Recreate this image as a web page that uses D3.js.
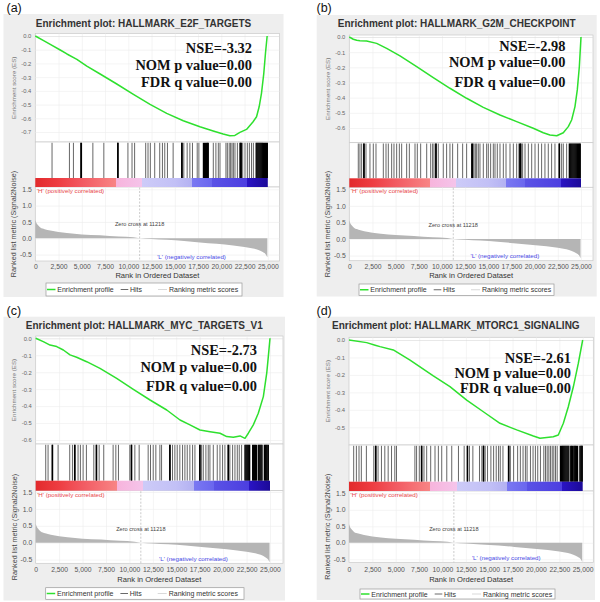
<!DOCTYPE html>
<html><head><meta charset="utf-8">
<script src="https://cdn.jsdelivr.net/npm/d3@7"></script>
<style>body{margin:0;background:#fff}svg{display:block}</style>
</head><body>
<svg id="c" width="600" height="602"></svg>
<script>
// ---------------- DATA ----------------
const panelLabels = ["(a)", "(b)", "(c)", "(d)"];
const geneSets = ["HALLMARK_E2F_TARGETS", "HALLMARK_G2M_CHECKPOINT", "HALLMARK_MYC_TARGETS_V1", "HALLMARK_MTORC1_SIGNALING"];
const nseValues = ["-3.32", "-2.98", "-2.73", "-2.61"];
const nomPValues = ["0.00", "0.00", "0.00", "0.00"];
const fdrQValues = ["0.00", "0.00", "0.00", "0.00"];

// running enrichment score: [rank, ES]
const esA = [[0,0],[895,-0.034],[1610,-0.061],[2680,-0.102],[3400,-0.131],[4470,-0.170],[5540,-0.219],[6970,-0.277],[8760,-0.350],[10550,-0.426],[12340,-0.499],[14130,-0.564],[15910,-0.618],[17700,-0.662],[19130,-0.693],[20200,-0.715],[20920,-0.727],[21460,-0.725],[22000,-0.703],[22710,-0.681],[23420,-0.625],[23790,-0.589],[24070,-0.516],[24320,-0.418],[24570,-0.272],[24750,-0.126],[24930,0]];
const esB = [[0,0],[430,-0.015],[800,-0.022],[1150,-0.024],[1870,-0.026],[2950,-0.042],[4030,-0.075],[5470,-0.125],[7270,-0.196],[9060,-0.268],[10860,-0.338],[12660,-0.404],[14460,-0.464],[16260,-0.514],[18060,-0.558],[19850,-0.602],[20930,-0.631],[21650,-0.646],[22380,-0.651],[23090,-0.631],[23630,-0.591],[23990,-0.547],[24350,-0.459],[24600,-0.349],[24820,-0.196],[25000,0]];
const esC = [[0,0],[810,-0.020],[1530,-0.040],[2240,-0.049],[2950,-0.069],[3660,-0.098],[4370,-0.112],[5440,-0.138],[6860,-0.177],[8640,-0.236],[10420,-0.301],[12200,-0.364],[13980,-0.423],[15400,-0.482],[16460,-0.511],[17530,-0.541],[18600,-0.551],[19670,-0.560],[20380,-0.580],[21090,-0.584],[21800,-0.576],[22330,-0.590],[22690,-0.560],[23220,-0.511],[23750,-0.442],[24290,-0.344],[24650,-0.206],[24820,-0.108],[25000,0]];
const esD = [[0,0],[1890,-0.015],[2800,-0.030],[3320,-0.038],[4740,-0.057],[6530,-0.115],[9020,-0.206],[10800,-0.267],[12590,-0.344],[14370,-0.411],[16150,-0.477],[17940,-0.515],[19720,-0.550],[20430,-0.563],[21150,-0.558],[21850,-0.554],[22390,-0.544],[22930,-0.477],[23460,-0.382],[24000,-0.268],[24530,-0.134],[25000,0]];

// hit positions (rank)
const hitsA = [1800,3670,4100,4900,4960,6190,7370,8860,8900,9960,10400,10680,11870,12120,12370,12840,13380,13670,13920,14210,14820,15740,15790,15970,16330,16620,16900,17410,17590,18080,18200,18300,18420,18500,18600,19140,19420,19680,19860,20500,20650,20850,21000,21150,21300,21470,21730,22010,22080,22150,22300,22550,22800,23020,23250,23450,23750,23850,23950,24050,24150,24250,24350,24450,24550,24650,24750,24850,24950];
const hitsB = [970,1150,1330,1560,1600,1800,2230,2590,2880,3670,3960,4210,4570,4820,5110,5400,5650,6190,6480,7090,7340,7700,8350,8780,8990,9140,9330,9370,9600,10140,10500,10860,11150,11690,12230,12660,13210,13310,13450,13600,13740,13920,14100,14460,14820,15000,15250,15540,15720,15970,16260,16620,16910,17340,17700,18060,18340,18470,18510,18700,18960,19320,19680,20040,20400,20750,21110,21470,21830,22190,22640,22680,22910,23090,23450,23740,23840,23940,24040,24140,24240,24340,24440,24540,24640,24740,24840,24920];
const hitsC = [1070,1320,1760,1800,2390,3630,3920,4150,4190,4520,4770,5060,5410,6200,6460,6500,6770,7260,8260,8550,8830,10040,10200,10240,10580,11040,12000,12250,12540,12820,13250,13430,14300,14340,14600,14850,15100,15380,15670,15920,16170,16450,16740,16990,17500,17540,17700,17880,18160,18410,18590,18950,19370,19660,19940,20190,20530,20570,20720,21010,21260,21510,21720,21970,22330,22430,22530,22630,22730,22830,23150,23250,23350,23450,23550,23750,23850,23950,24050,24150,24400,24500,24600,24700,24820];
const hitsD = [500,790,1070,1320,1860,2650,2840,2880,3110,3470,3830,4190,4550,4900,5080,7050,7230,7520,7750,7790,8020,8310,8740,9200,9560,9920,10460,10990,11710,12320,12650,12690,12890,13250,13960,14210,14370,14410,14570,14820,15180,15470,15750,16000,16180,16470,17060,17100,17260,17610,18040,18330,18620,18870,19050,19410,19690,19940,20190,20480,20840,21020,21200,21380,21560,21740,21910,22090,22270,22620,22720,22820,22920,23020,23120,23220,23320,23420,23520,23720,23820,23920,24050,24150,24250,24350,24450,24700,24800,24900,24950];

// ranked list metric (Signal2Noise): [rank, value]
const rankedMetric = [[0,0.56],[120,0.47],[300,0.40],[540,0.33],[1000,0.28],[1610,0.236],[2500,0.19],[3400,0.16],[5000,0.12],[6970,0.094],[9000,0.055],[10550,0.03],[11218,0],[12500,-0.02],[14130,-0.048],[16000,-0.085],[17700,-0.125],[19500,-0.17],[21280,-0.22],[22500,-0.265],[23420,-0.31],[24000,-0.36],[24500,-0.43],[24800,-0.50],[24950,-0.58]];
const zeroCross = 11218;

const xTicks = [0,2500,5000,7500,10000,12500,15000,17500,20000,22500,25000];
const xTickLabels = ["0","2,500","5,000","7,500","10,000","12,500","15,000","17,500","20,000","22,500","25,000"];
const esTicksA = [0,-0.1,-0.2,-0.3,-0.4,-0.5,-0.6,-0.7];
const esTicksB = [0,-0.1,-0.2,-0.3,-0.4,-0.5,-0.6];
const esTicksC = [0,-0.1,-0.2,-0.3,-0.4,-0.5,-0.6];
const esTicksD = [0,-0.1,-0.2,-0.3,-0.4,-0.5];
const rlTicks = [1.5,1.0,0.5,0.0,-0.5];
const lLabelEnd = 20500;

// ---------------- STYLE / LAYOUT ----------------
const colourStops = [[0,"#e22a2c"],[2500,"#ee3d42"],[5000,"#f25a62"],[8700,"#f88585"],[8700,"#f7b4dc"],[11500,"#f5c4ea"],[11500,"#cdcbf8"],[15000,"#c2c0f6"],[16900,"#b3b1f2"],[16900,"#7a78f2"],[19000,"#6a66ee"],[19000,"#5a52e6"],[22800,"#4c3ee0"],[22800,"#2a14c4"],[25000,"#1c0a98"]];

const layout = [
  {lab:[6.5,12], bg:[3.5,14,283.5,297], x0:35.3, x25:267.8, xR:279.5, esTop:33.5, es0:36, esRef:[-0.7,132], hitsTop:142, barTop:178, barBot:187, rlBot:261, rl0:238.3, rl15:189.3, titleY:26.5, statR:252, statY:[52.7,69.6,87.3], tickY:268.5, axisTitleY:278, legend:[46,283,242,296]},
  {lab:[316.5,12], bg:[316.7,15,596.7,296.5], x0:349.3, x25:581, xR:593, esTop:35, es0:37, esRef:[-0.6,128], hitsTop:142.7, barTop:178.3, barBot:187.3, rlBot:260.7, rl0:239, rl15:189.3, titleY:26.7, statR:565.5, statY:[50.7,66.5,87.3], tickY:269, axisTitleY:278.3, legend:[359,284,554,295.5]},
  {lab:[6.5,314.5], bg:[3.5,316.7,285,600.5], x0:35.7, x25:270, xR:283, esTop:336, es0:338.3, esRef:[-0.6,440], hitsTop:444, barTop:480.7, barBot:490.7, rlBot:563.3, rl0:542.7, rl15:492, titleY:329, statR:257, statY:[355,371.9,390.7], tickY:572.5, axisTitleY:581.5, legend:[45.7,587.7,244,599.3]},
  {lab:[316.5,315], bg:[316.7,316.7,595,600], x0:349, x25:582.7, xR:593.3, esTop:337.3, es0:340, esRef:[-0.5,427.3], hitsTop:445, barTop:481.7, barBot:491, rlBot:562.3, rl0:542.8, rl15:493.3, titleY:329, statR:571, statY:[362.6,377.6,393.4], tickY:572.5, axisTitleY:581.5, legend:[360,589,555,599]}
];

const esCurves = [esA, esB, esC, esD];
const hitSets = [hitsA, hitsB, hitsC, hitsD];
const esTickSets = [esTicksA, esTicksB, esTicksC, esTicksD];

const SANS = "'Liberation Sans', Arial, sans-serif";
const SERIF = "'Liberation Serif', 'Times New Roman', serif";
const svg = d3.select("#c");
const defs = svg.append("defs");

function drawPanel(i) {
  const L = layout[i];
  const g = svg.append("g");
  const x = d3.scaleLinear().domain([0, 25000]).range([L.x0, L.x25]);
  const yEs = d3.scaleLinear().domain([0, L.esRef[0]]).range([L.es0, L.esRef[1]]);
  const yRl = d3.scaleLinear().domain([0, 1.5]).range([L.rl0, L.rl15]);
  const W = L.xR - L.x0;

  svg.append("text").attr("x", L.lab[0]).attr("y", L.lab[1]).text(panelLabels[i])
    .attr("font-family", SANS).attr("font-size", 12.5).attr("fill", "#111");

  g.append("rect").attr("x", L.bg[0]).attr("y", L.bg[1]).attr("width", L.bg[2]-L.bg[0]).attr("height", L.bg[3]-L.bg[1])
    .attr("fill", "#eeeeee");

  g.append("text").attr("x", (L.bg[0]+L.bg[2])/2).attr("y", L.titleY).attr("text-anchor", "middle")
    .attr("font-family", SANS).attr("font-weight", "bold").attr("font-size", 10).attr("fill", "#333")
    .text("Enrichment plot: " + geneSets[i]);

  const boxes = [[L.esTop, L.hitsTop], [L.hitsTop, L.barBot], [L.barBot, L.rlBot]];
  boxes.forEach(b => g.append("rect").attr("x", L.x0).attr("y", b[0]).attr("width", W).attr("height", b[1]-b[0])
    .attr("fill", "#fff").attr("stroke", "#c9c9c9").attr("stroke-width", 0.7));

  const gridCol = "#ececec";
  const esGridX = g.append("g").attr("transform", `translate(0,${L.hitsTop})`)
    .call(d3.axisBottom(x).tickValues(xTicks.slice(1)).tickSize(-(L.hitsTop - L.esTop)).tickFormat(""));
  const rlGridX = g.append("g").attr("transform", `translate(0,${L.rlBot})`)
    .call(d3.axisBottom(x).tickValues(xTicks.slice(1)).tickSize(-(L.rlBot - L.barBot)).tickFormat(""));
  const esGridY = g.append("g").attr("transform", `translate(${L.x0},0)`)
    .call(d3.axisLeft(yEs).tickValues(esTickSets[i]).tickSize(-W).tickFormat(""));
  const rlGridY = g.append("g").attr("transform", `translate(${L.x0},0)`)
    .call(d3.axisLeft(yRl).tickValues(rlTicks).tickSize(-W).tickFormat(""));
  [esGridX, rlGridX, esGridY, rlGridY].forEach(a => {
    a.select(".domain").remove();
    a.selectAll("line").attr("stroke", gridCol).attr("stroke-width", 0.6);
  });
  esGridY.selectAll(".tick").filter(d => d === 0).select("line").attr("stroke", "#d8d8d8");

  const esAx = g.append("g").attr("transform", `translate(${L.x0},0)`)
    .call(d3.axisLeft(yEs).tickValues(esTickSets[i]).tickSize(0).tickPadding(4).tickFormat(d => d.toFixed(1)));
  esAx.select(".domain").remove();
  esAx.selectAll("text").attr("font-family", SANS).attr("font-size", 5.8).attr("fill", "#666");

  const rlAx = g.append("g").attr("transform", `translate(${L.x0},0)`)
    .call(d3.axisLeft(yRl).tickValues(rlTicks).tickSize(0).tickPadding(3.5).tickFormat(d => d.toFixed(1)));
  rlAx.select(".domain").remove();
  rlAx.selectAll("text").attr("font-family", SANS).attr("font-size", 6.8).attr("fill", "#555");

  const xAx = g.append("g").attr("transform", `translate(0,${L.rlBot})`)
    .call(d3.axisBottom(x).tickValues(xTicks).tickSize(0).tickPadding(0).tickFormat((d, k) => xTickLabels[k]));
  xAx.select(".domain").remove();
  xAx.selectAll("text").attr("dy", null).attr("y", L.tickY - L.rlBot)
    .attr("font-family", SANS).attr("font-size", 6.8).attr("fill", "#555");

  g.append("text").attr("x", (L.x0 + L.xR)/2).attr("y", L.axisTitleY).attr("text-anchor", "middle")
    .attr("font-family", SANS).attr("font-size", 7.6).attr("fill", "#333").text("Rank in Ordered Dataset");
  const esMid = (L.esTop + L.hitsTop)/2;
  g.append("text").attr("transform", `translate(${L.x0 - 21.5 + 2.1},${esMid}) rotate(-90)`).attr("text-anchor", "middle")
    .attr("font-family", SANS).attr("font-size", 6.2).attr("fill", "#777").text("Enrichment score (ES)");
  const rlMid = (L.barBot + L.rlBot)/2;
  g.append("text").attr("transform", `translate(${L.x0 - 21.5 + 2.5},${rlMid}) rotate(-90)`).attr("text-anchor", "middle")
    .attr("font-family", SANS).attr("font-size", 7.2).attr("fill", "#444").text("Ranked list metric (Signal2Noise)");

  const line = d3.line().x(d => x(d[0])).y(d => yEs(d[1]));
  g.append("path").datum(esCurves[i]).attr("d", line).attr("fill", "none")
    .attr("stroke", "#2ee02e").attr("stroke-width", 1.5).attr("stroke-linejoin", "round");

  // hits: isolated hits appear grey, clustered hits black
  const hs = hitSets[i];
  const isDense = (d, k) => (k > 0 && d - hs[k-1] <= 130) || (k < hs.length - 1 && hs[k+1] - d <= 130);
  g.append("g").selectAll("line").data(hs).join("line")
    .attr("x1", d => x(d)).attr("x2", d => x(d)).attr("y1", L.hitsTop + 0.8).attr("y2", L.barTop)
    .attr("stroke", "#000").attr("stroke-opacity", (d, k) => isDense(d, k) ? 1 : 0.6)
    .attr("stroke-width", (d, k) => isDense(d, k) ? 1.3 : 1.0);

  const gid = "cb" + i;
  const grad = defs.append("linearGradient").attr("id", gid).attr("gradientUnits", "userSpaceOnUse")
    .attr("x1", x(0)).attr("x2", x(25000)).attr("y1", 0).attr("y2", 0);
  colourStops.forEach(s => grad.append("stop").attr("offset", s[0]/25000).attr("stop-color", s[1]));
  g.append("rect").attr("x", x(0)).attr("y", L.barTop).attr("width", x(25000) - x(0)).attr("height", L.barBot - L.barTop)
    .attr("fill", `url(#${gid})`);

  const area = d3.area().x(d => x(d[0])).y0(yRl(0)).y1(d => yRl(d[1])).curve(d3.curveMonotoneX);
  g.append("path").datum(rankedMetric).attr("d", area).attr("fill", "#b5b5b5");

  g.append("line").attr("x1", x(zeroCross)).attr("x2", x(zeroCross)).attr("y1", L.barBot + 0.5).attr("y2", L.rlBot)
    .attr("stroke", "#aaa").attr("stroke-width", 0.6).attr("stroke-dasharray", "2,1.5");
  g.append("text").attr("x", x(zeroCross)).attr("y", L.rl0 - 12).attr("text-anchor", "middle")
    .attr("font-family", SANS).attr("font-size", 5.6).attr("fill", "#444").text("Zero cross at " + zeroCross);
  g.append("text").attr("x", L.x0 + 1.5).attr("y", L.barBot + 6).attr("font-family", SANS).attr("font-size", 6.2)
    .attr("fill", "#e8474a").text("'H' (positively correlated)");
  g.append("text").attr("x", x(lLabelEnd)).attr("y", L.rlBot - 2.5).attr("text-anchor", "end").attr("font-family", SANS)
    .attr("font-size", 6.2).attr("fill", "#4a4ae6").text("'L' (negatively correlated)");

  const stats = ["NSE=" + nseValues[i], "NOM p value=" + nomPValues[i], "FDR q value=" + fdrQValues[i]];
  stats.forEach((s, k) => g.append("text").attr("x", L.statR).attr("y", L.statY[k]).attr("text-anchor", "end")
    .attr("font-family", SERIF).attr("font-weight", "bold").attr("font-size", 14.4).attr("fill", "#111").text(s));

  const lg = L.legend;
  const lgG = g.append("g").attr("transform", `translate(${lg[0]},${lg[1]})`);
  const lh = lg[3] - lg[1];
  lgG.append("rect").attr("width", lg[2]-lg[0]).attr("height", lh).attr("fill", "#fff").attr("stroke", "#999").attr("stroke-width", 0.7);
  const ly = lh/2, ty = lh/2 + 2.5;
  lgG.append("line").attr("x1", 1).attr("x2", 9.5).attr("y1", ly).attr("y2", ly).attr("stroke", "#2ee02e").attr("stroke-width", 1.5);
  lgG.append("text").attr("x", 11.3).attr("y", ty).attr("font-family", SANS).attr("font-size", 7).attr("fill", "#333").text("Enrichment profile");
  lgG.append("line").attr("x1", 74.7).attr("x2", 82.3).attr("y1", ly).attr("y2", ly).attr("stroke", "#444").attr("stroke-width", 0.8);
  lgG.append("text").attr("x", 84).attr("y", ty).attr("font-family", SANS).attr("font-size", 7).attr("fill", "#333").text("Hits");
  lgG.append("line").attr("x1", 112).attr("x2", 121).attr("y1", ly).attr("y2", ly).attr("stroke", "#cfcfcf").attr("stroke-width", 0.8);
  lgG.append("text").attr("x", 123).attr("y", ty).attr("font-family", SANS).attr("font-size", 7).attr("fill", "#333").text("Ranking metric scores");
}

for (let i = 0; i < 4; i++) drawPanel(i);
</script>
</body></html>
